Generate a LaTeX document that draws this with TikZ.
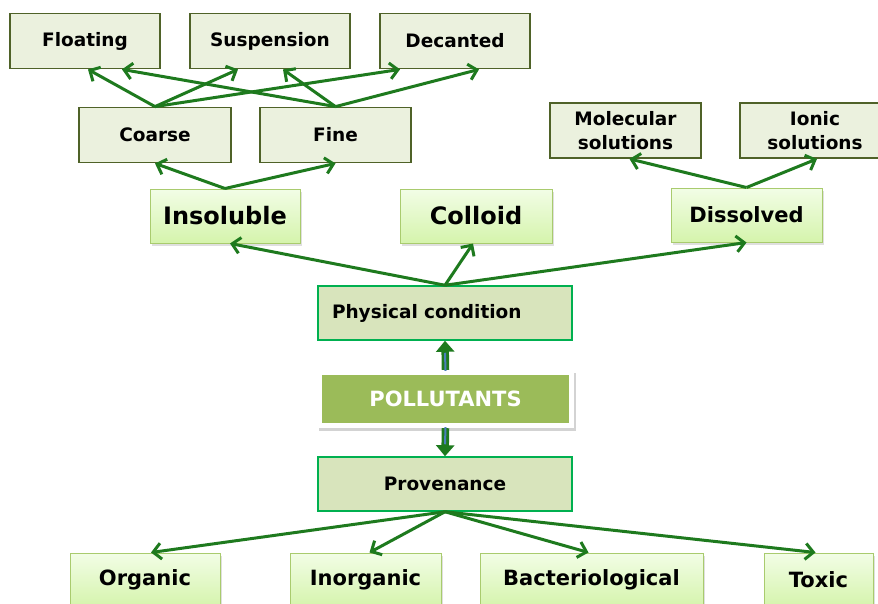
\documentclass[tikz,border=0pt]{standalone}
\usepackage{fontspec}
\setmainfont{DejaVu Sans}
\usetikzlibrary{%
  arrows.meta,%
  positioning,%
  shadows,%
  calc%
}

\definecolor{linkgreen}{HTML}{1E7A1E}
\definecolor{olivedraw}{HTML}{4F6228}
\definecolor{olivefill}{HTML}{EBF1DE}
\definecolor{limetop}{HTML}{F2FDE6}
\definecolor{limebot}{HTML}{D5F4AC}
\definecolor{limedraw}{HTML}{A9CB6E}
\definecolor{condgreen}{HTML}{00B050}
\definecolor{condfill}{HTML}{D8E4BC}
\definecolor{pollfill}{HTML}{9BBB59}
\definecolor{corecol}{HTML}{4A7EBB}

\tikzset{
  subbox/.style={draw=olivedraw, line width=1.8pt, fill=olivefill, minimum height=55pt,
    align=center, font=\bfseries\fontsize{18.5}{24}\selectfont},
  classbox/.style={draw=limedraw, line width=1pt, top color=limetop, bottom color=limebot,
    minimum height=54pt, drop shadow={shadow xshift=2pt, shadow yshift=-2.5pt, opacity=0.25}},
  condbox/.style={draw=condgreen, line width=1.5pt, fill=condfill, minimum width=254pt,
    minimum height=54pt, font=\bfseries\fontsize{18.5}{22}\selectfont},
  link/.style={draw=linkgreen, line width=3pt, -{Straight Barb[length=8pt,width=16pt]}},
  fatlink/.style={draw=linkgreen, line width=7.5pt, -{Triangle[length=11pt,width=18pt]}},
  fatcore/.style={draw=corecol, line width=2pt}
}

\begin{document}
\begin{tikzpicture}[x=1pt,y=-1pt]
\useasboundingbox (0,0) rectangle (878,603);
\clip (0,0) rectangle (878,603);

% kinds of insoluble matter
\node[subbox, minimum width=150pt] (float) at (85,41) {Floating};
\node[subbox, minimum width=160pt] (susp) at (270,41) {Suspension};
\node[subbox, minimum width=150pt] (decant) at (455,41) {Decanted};

% size classes and solutions
\node[subbox, minimum width=152pt] (coarse) at (155,135) {Coarse};
\node[subbox, minimum width=151pt] (fine) at (335.5,135) {Fine};
\node[subbox, minimum width=151pt] (molec) at (625.5,130.5) {Molecular\\solutions};
\node[subbox, minimum width=150pt] (ionic) at (815,130.5) {Ionic\\solutions};

% physical states
\node[classbox, minimum width=150pt, font=\bfseries\fontsize{24}{28}\selectfont] (insol) at (225,216) {Insoluble};
\node[classbox, minimum width=152pt, font=\bfseries\fontsize{24}{28}\selectfont] (colloid) at (476,216) {Colloid};
\node[classbox, minimum width=151pt, font=\bfseries\fontsize{21}{25}\selectfont] (dissol) at (746.5,215) {Dissolved};

% centre column
\node[condbox, text width=226pt, inner xsep=14pt, align=left] (cond) at (445,313) {Physical condition};
\node[fill=white, minimum width=257pt, minimum height=58pt,
  drop shadow={shadow xshift=1.5pt, shadow yshift=-3pt, opacity=0.35}] (pollframe) at (445.5,399) {};
\node[fill=pollfill, minimum width=247pt, minimum height=48pt,
  text=white, font=\bfseries\fontsize{21}{25}\selectfont] (poll) at (pollframe) {POLLUTANTS};
\node[condbox] (prov) at (445,484) {Provenance};

% origins
\node[classbox, minimum width=150pt, font=\bfseries\fontsize{21}{25}\selectfont] (organic) at (145,580) {Organic};
\node[classbox, minimum width=151pt, font=\bfseries\fontsize{21}{25}\selectfont] (inorg) at (365.5,580) {Inorganic};
\node[classbox, minimum width=223pt, font=\bfseries\fontsize{21}{25}\selectfont] (bact) at (591.5,580) {Bacteriological};
\node[classbox, minimum width=109pt, font=\bfseries\fontsize{21}{25}\selectfont] (toxic) at (818.5,580) {Toxic};

% Coarse and Fine to the three kinds
\draw[link] (coarse.north) -- ([xshift=3pt]float.south);
\draw[link] (coarse.north) -- ([xshift=-32pt]susp.south);
\draw[link] (coarse.north) -- ([xshift=-55pt]decant.south);
\draw[link] (fine.north) -- ([xshift=37pt]float.south);
\draw[link] (fine.north) -- ([xshift=13pt]susp.south);
\draw[link] (fine.north) -- ([xshift=24pt]decant.south);

\draw[link] (insol.north) -- (coarse.south);
\draw[link] (insol.north) -- (fine.south);
\draw[link] (dissol.north) -- ([xshift=4pt]molec.south);
\draw[link] (dissol.north) -- ([xshift=2pt]ionic.south);

% Physical condition to states
\draw[link] (cond.north) -- ([xshift=5pt]insol.south);
\draw[link] (cond.north) -- ([xshift=-3pt]colloid.south);
\draw[link] (cond.north) -- (dissol.south);

% POLLUTANTS up and down
\draw[fatlink] (pollframe.north) -- (cond.south);
\draw[fatcore] ([yshift=-1pt]pollframe.north) -- ([yshift=-12pt]cond.south);
\draw[fatlink] (pollframe.south) -- (prov.north);
\draw[fatcore] ([yshift=1pt]pollframe.south) -- ([yshift=12pt]prov.north);

% Provenance to origins
\draw[link] (prov.south) -- ([xshift=6pt]organic.north);
\draw[link] (prov.south) -- ([xshift=4pt]inorg.north);
\draw[link] (prov.south) -- ([xshift=-3pt]bact.north);
\draw[link] (prov.south) -- ([xshift=-3pt]toxic.north);
\end{tikzpicture}
\end{document}
